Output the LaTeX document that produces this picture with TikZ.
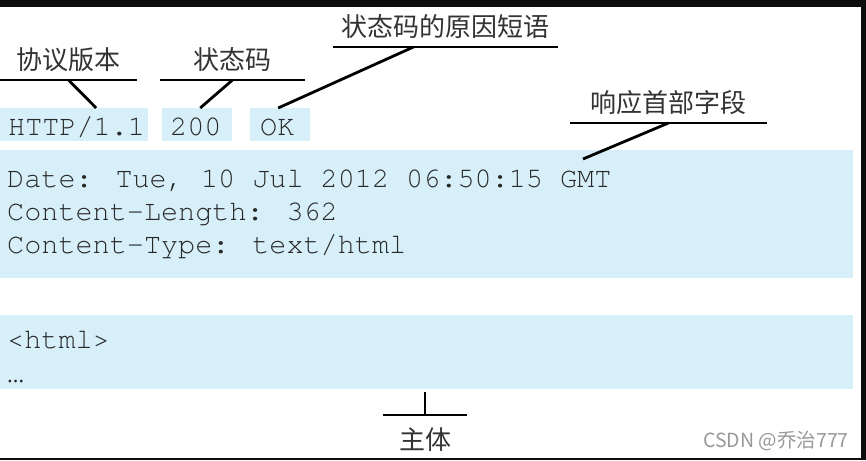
\documentclass[tikz,border=0pt]{standalone}
\usepackage{fontspec}
\newfontfamily\cjk{Noto Sans CJK SC}
\newfontfamily\monofont{texgyrecursor-regular.otf}
\usepackage{tikz}
\usetikzlibrary{positioning}
\definecolor{fieldblue}{RGB}{214,239,249}
\definecolor{inkgray}{RGB}{40,40,40}
\tikzstyle{field} = [fill=fieldblue, inner sep=0pt, anchor=north west]
\tikzstyle{mono} = [font={\monofont\fontsize{28.5}{33}\selectfont}, text=inkgray, inner sep=0pt, anchor=base west]
\tikzstyle{tag} = [font={\cjk\fontsize{26}{26}\selectfont}, text=black!80, inner xsep=0pt, inner ysep=8pt, anchor=south]
\tikzstyle{line} = [line width=2.8pt, black]

\begin{document}
\begin{tikzpicture}[x=1pt, y=-1pt]
            \useasboundingbox (0,0) rectangle (866,460);
            % screenshot frame
            \fill[black!95] (0,0) rectangle (866,460);
            \fill[white] (0,7) rectangle (861,458);
            % fields
            \node[field, minimum width=148pt, minimum height=33pt] (verbox) at (0,108) {};
            \node[field, minimum width=70pt, minimum height=33pt] (codebox) at (162,108) {};
            \node[field, minimum width=60pt, minimum height=33pt] (okbox) at (250,108) {};
            \node[field, minimum width=853pt, minimum height=128pt] (headbox) at (0,150) {};
            \node[field, minimum width=853pt, minimum height=74pt] (bodybox) at (0,315) {};
            \node[mono] (ver) at (8,135) {HTTP/1.1};
            \node[mono] (code) at (170,135) {200};
            \node[mono] (ok) at (260,135) {OK};
            \node[mono] (date) at (7,187) {Date: Tue, 10 Jul 2012 06:50:15 GMT};
            \node[mono] (len) at (7,220) {Content-Length: 362};
            \node[mono] (type) at (7,253) {Content-Type: text/html};
            \node[mono] (html) at (7,348) {<html>};
            \node[mono] (dots) at (7,382) {…};
            % labels
            \node[tag, minimum width=137pt] (verlbl) at (68.5,80) {协议版本};
            \node[tag, minimum width=145pt] (codelbl) at (232.5,80) {状态码};
            \node[tag, minimum width=225pt] (reasonlbl) at (445.5,47) {状态码的原因短语};
            \node[tag, minimum width=197pt] (headlbl) at (668.5,123) {响应首部字段};
            \node[tag, minimum width=84pt, anchor=north, inner ysep=13pt] (bodylbl) at (425,415) {主体};
            \draw[line] (verlbl.south west) -- (verlbl.south east);
            \draw[line] (codelbl.south west) -- (codelbl.south east);
            \draw[line] (reasonlbl.south west) -- (reasonlbl.south east);
            \draw[line] (headlbl.south west) -- (headlbl.south east);
            \draw[line] (bodylbl.north west) -- (bodylbl.north east);
            % connectors
            \coordinate (gmt) at (583,159);
            \draw[line] (verlbl.south) -- ([xshift=22pt]verbox.north);
            \draw[line] (codelbl.south) -- ([xshift=3pt]codebox.north);
            \draw[line] ([xshift=-32pt]reasonlbl.south) -- ([xshift=-2pt]okbox.north);
            \draw[line] (headlbl.south) -- (gmt);
            \draw[line, shorten <=3pt] (bodylbl.north |- bodybox.south) -- (bodylbl.north);
            % watermark
            \node[font={\cjk\fontsize{19.5}{19.5}\selectfont}, text=black!40, inner sep=0pt] (mark) at (776,441) {CSDN @乔治777};
        \end{tikzpicture}
\end{document}
